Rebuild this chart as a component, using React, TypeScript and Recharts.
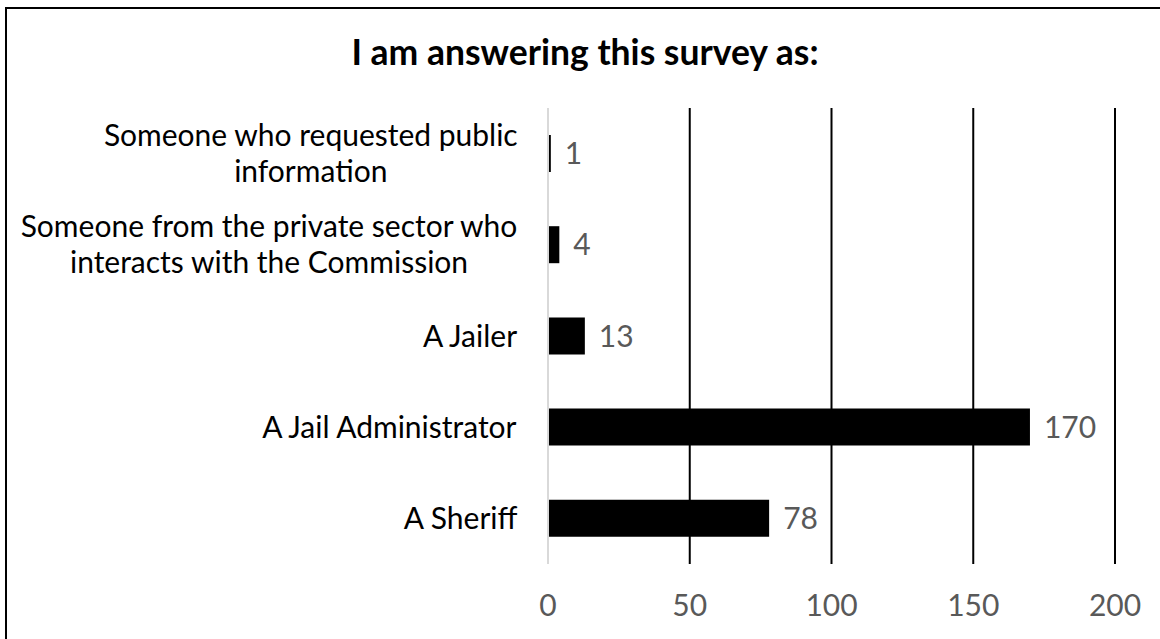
import React from 'react';
import { BarChart, Bar, XAxis, YAxis, LabelList, ReferenceLine } from 'recharts';

const title = 'I am answering this survey as:';
const categories = [
  'Someone who requested public\ninformation',
  'Someone from the private sector who\ninteracts with the Commission',
  'A Jailer',
  'A Jail Administrator',
  'A Sheriff',
];
const counts = [1, 4, 13, 170, 78];
const xTicks = [0, 50, 100, 150, 200];

const data = categories.map((name, i) => ({ name, value: counts[i] }));

const FONT = 'Lato, "Open Sans", sans-serif';
const LABEL_SIZE = 30;
const NUM_SIZE = 30;
const LINE_H = 36;

let ctx: CanvasRenderingContext2D | null = null;
function measure(text: string, size: number): number {
  if (!ctx) {
    const c = document.createElement('canvas');
    ctx = c.getContext('2d');
  }
  if (!ctx) return text.length * size * 0.5;
  ctx.font = `${size}px Lato`;
  return ctx.measureText(text).width;
}

const CategoryTick = (props: any) => {
  const { x, y, payload } = props;
  const lines: string[] = String(payload.value).split('\n');
  const widths = lines.map((l) => measure(l, LABEL_SIZE));
  const maxW = Math.max(...widths);
  const cx = x - maxW / 2;
  const n = lines.length;
  return (
    <g>
      {lines.map((l, i) => (
        <text
          key={i}
          x={cx}
          y={y + (i - (n - 1) / 2) * LINE_H}
          dy="0.35em"
          textAnchor="middle"
          fontFamily={FONT}
          fontSize={LABEL_SIZE}
          fill="#000"
        >
          {l}
        </text>
      ))}
    </g>
  );
};

export default function App() {
  return (
    <div style={{ position: 'absolute', left: 0, top: 0, width: 1160, height: 639, overflow: 'hidden', background: '#fff' }}>
      <div
        style={{
          position: 'absolute',
          left: 5,
          top: 7,
          width: 1180,
          height: 660,
          border: '2px solid #000',
          boxSizing: 'border-box',
        }}
      />
      <div style={{ position: 'absolute', left: 0, top: 0 }}>
        <BarChart
          width={1160}
          height={639}
          data={data}
          layout="vertical"
          margin={{ top: 108, right: 45, bottom: 0, left: 0 }}
        >
          <XAxis
            type="number"
            domain={[0, 200]}
            ticks={xTicks}
            axisLine={false}
            tickLine={false}
            height={75}
            tickMargin={25}
            tick={{ fontSize: NUM_SIZE, fill: '#595959', fontFamily: FONT }}
          />
          <YAxis
            type="category"
            dataKey="name"
            width={548}
            axisLine={{ stroke: '#d9d9d9', strokeWidth: 2 }}
            tickLine={false}
            tickMargin={24}
            tick={<CategoryTick />}
            interval={0}
          />
          {xTicks.filter((t) => t > 0).map((t) => (
            <ReferenceLine key={t} x={t} stroke="#000" strokeWidth={2} ifOverflow="extendDomain" />
          ))}
          <Bar dataKey="value" fill="#000" barSize={37} isAnimationActive={false}>
            <LabelList
              dataKey="value"
              position="right"
              offset={14}
              fill="#595959"
              fontSize={NUM_SIZE}
              fontFamily={FONT}
            />
          </Bar>
        </BarChart>
      </div>
      <svg width={1160} height={639} style={{ position: 'absolute', left: 0, top: 0, pointerEvents: 'none' }}>
        <text x={585} y={65} textAnchor="middle" fontFamily={FONT} fontWeight="bold" fontSize={35.5} fill="#000">
          {title}
        </text>
      </svg>
    </div>
  );
}
